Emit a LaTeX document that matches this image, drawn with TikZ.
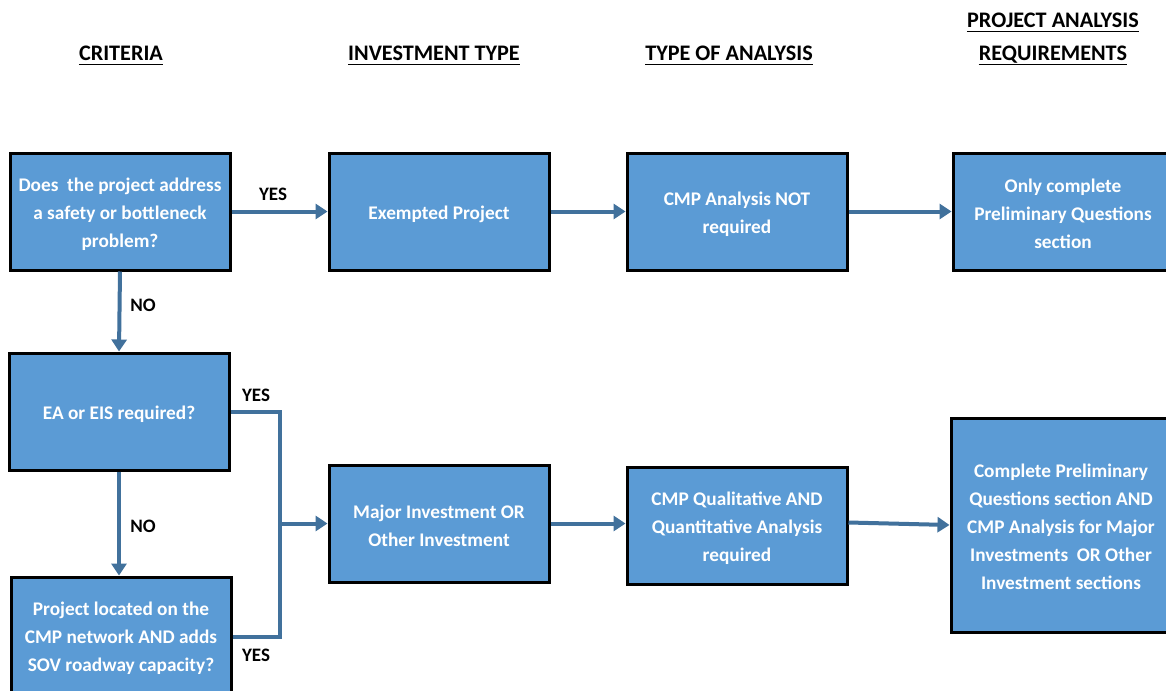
\documentclass[tikz,border=0pt]{standalone}
\usepackage{fontspec}
\setmainfont{Carlito}
\usetikzlibrary{arrows.meta}
\definecolor{boxfill}{HTML}{5B9BD5}
\definecolor{conn}{HTML}{41719C}
\begin{document}
\begin{tikzpicture}[x=1pt,y=-1pt,
  box/.style={draw=black, line width=3pt, fill=boxfill, minimum width=220pt, inner sep=0pt},
  btxt/.style={text=white, align=center, font=\fontsize{19.3}{28}\selectfont\bfseries, inner sep=0pt},
  hdr/.style={font=\fontsize{22.2}{33}\selectfont\bfseries, inner sep=0pt, anchor=base},
  lbl/.style={font=\fontsize{19}{22}\selectfont\bfseries, inner sep=0pt},
  arr/.style={draw=conn, line width=4pt, -{Triangle[length=12pt,width=15pt]}},
  ln/.style={draw=conn, line width=4pt}
]
\useasboundingbox (0,0) rectangle (1166,690);
\clip (0,0) rectangle (1166,690);
\fill[white] (0,0) rectangle (1166,690);

% headers
\node[hdr] (h1) at (121,61) {CRITERIA};
\node[hdr] (h2) at (434,61) {INVESTMENT TYPE};
\node[hdr] (h3) at (729,61) {TYPE OF ANALYSIS};
\node[hdr] (h4a) at (1053,28) {PROJECT ANALYSIS};
\node[hdr] (h4b) at (1053,61) {REQUIREMENTS};
\foreach \h in {h1,h2,h3,h4a,h4b}
  \draw[line width=1.6pt] ([yshift=-3.5pt]\h.base west) -- ([yshift=-3.5pt]\h.base east);

% boxes
\node[box, minimum height=117pt] (q1) at (120,211.5) {};
\node[box, minimum height=117pt] (ex) at (439,211.5) {};
\node[box, minimum height=117pt] (na) at (737,211.5) {};
\node[box, minimum height=117pt] (oc) at (1063,211.5) {};
\node[box, minimum height=117pt] (ea) at (119,411.5) {};
\node[box, minimum height=120pt] (pl) at (121,637) {};
\node[box, minimum height=117pt] (mi) at (439,523.5) {};
\node[box, minimum height=117pt] (cq) at (737,525.5) {};
\node[box, minimum height=214pt] (cp) at (1061,525) {};

% box texts
\node[btxt] (q1t) at ([yshift=-2.5pt]q1.center) {Does\ \ the project address\\a safety or bottleneck\\problem?};
\node[btxt] (ext) at ([yshift=-2.5pt]ex.center) {Exempted Project};
\node[btxt] (nat) at ([yshift=-2.5pt]na.center) {CMP Analysis NOT\\required};
\node[btxt] (oct) at ([yshift=-2.5pt]oc.center) {Only complete\\Preliminary Questions\\section};
\node[btxt] (eat) at ([yshift=-2.5pt]ea.center) {EA or EIS required?};
\node[btxt] (plt) at ([yshift=-1pt]pl.center) {Project located on the\\CMP network AND adds\\SOV roadway capacity?};
\node[btxt] (mit) at ([yshift=-2.5pt]mi.center) {Major Investment OR\\Other Investment};
\node[btxt] (cqt) at ([yshift=-2.5pt]cq.center) {CMP Qualitative AND\\Quantitative Analysis\\required};
\node[btxt] (cpt) at ([yshift=-1.5pt]cp.center) {Complete Preliminary\\Questions section AND\\CMP Analysis for Major\\Investments\ \ OR Other\\Investment sections};

% connectors
\draw[arr] (q1.east) -- (ex.west);
\draw[arr] (ex.east) -- (na.west);
\draw[arr] (na.east) -- (oc.west);
\draw[arr] (q1.south) -- (ea.north);
\draw[arr] (ea.south) -- (ea.south |- pl.north);
\coordinate (j1) at (280,411.5);
\coordinate (j2) at (280,637);
\draw[ln, line join=miter] (ea.east) -- (j1) -- (j2) -- (pl.east);
\draw[arr] (j1 |- mi.west) -- (mi.west);
\draw[arr] (mi.east) -- (mi.east -| cq.west);
\draw[arr] ([yshift=3pt]cq.east) -- (cp.west);

% labels
\node[lbl] (y1) at (273,194) {YES};
\node[lbl] (n1) at (143,305) {NO};
\node[lbl] (y2) at (256,395) {YES};
\node[lbl] (n2) at (143,526) {NO};
\node[lbl] (y3) at (256,655) {YES};
\end{tikzpicture}
\end{document}
